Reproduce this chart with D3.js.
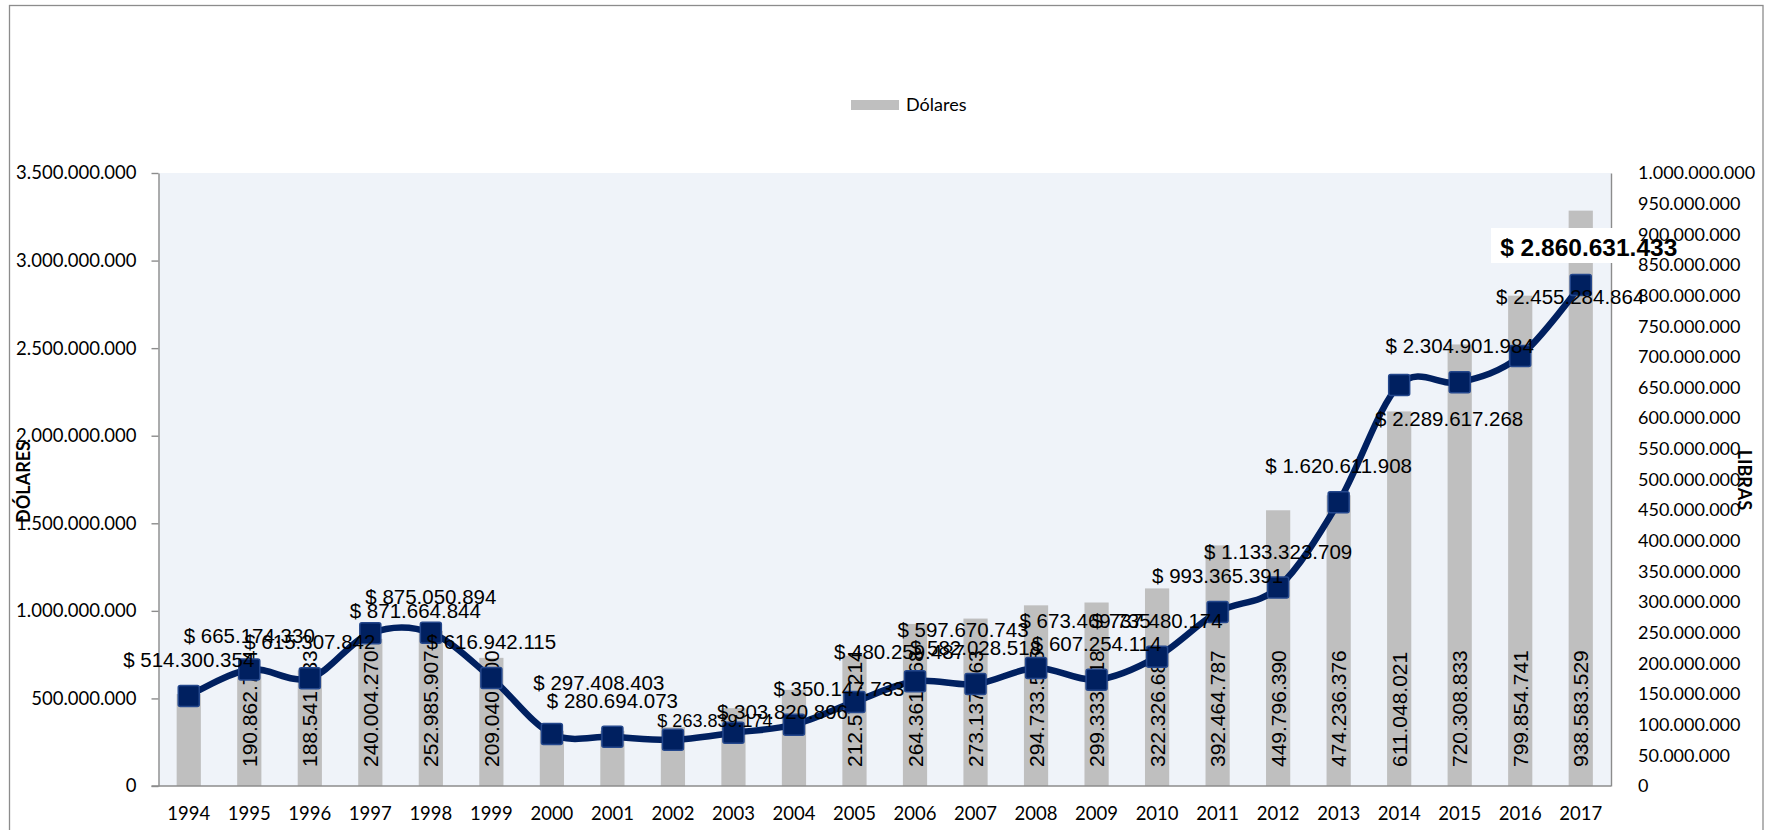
<!DOCTYPE html>
<html lang="es">
<head>
<meta charset="utf-8">
<title>Dólares y libras 1994–2017</title>
<script src="https://cdn.jsdelivr.net/npm/d3@7/dist/d3.min.js"></script>
<style>
  html, body { margin: 0; padding: 0; background: #ffffff; }
  svg { display: block; }
</style>
</head>
<body>
<svg id="chart" width="1773" height="830"></svg>
<script>
// Years on the category axis
const years = ["1994","1995","1996","1997","1998","1999","2000","2001","2002","2003","2004","2005",
               "2006","2007","2008","2009","2010","2011","2012","2013","2014","2015","2016","2017"];

// Line series: value in dollars (left axis)
const dolares = [514300354, 665174330, 615307842, 871664844, 875050894, 616942115, 297408403,
                 280694073, 263839174, 303820896, 350147733, 480259487, 597670743, 582028518,
                 673469735, 607254114, 737480174, 993365391, 1133323709, 1620611908, 2289617268,
                 2304901984, 2455284864, 2860631433];

// Bar series: volume in pounds (right axis)
const libras = [150000000, 190862764, 188541533, 240004270, 252985907, 209040500, 90000000,
                90000000, 96000000, 127000000, 157000000, 212575214, 264361768, 273137763,
                294733585, 299333918, 322326680, 392464787, 449796390, 474236376, 611048021,
                720308833, 799854741, 938583529];

// Which bars carry a value label
const librasLabelled = [false, true, true, true, true, true, false, false, false, false, false, true,
                        true, true, true, true, true, true, true, true, true, true, true, true];

// Axis ticks
const leftTicks = [0, 500000000, 1000000000, 1500000000, 2000000000, 2500000000, 3000000000, 3500000000];
const rightTicks = d3.range(0, 1000000001, 50000000);

// Legend entries
const legendItems = ["Dólares"];

// ---- layout ----
const W = 1773, H = 830;
const plot = { left: 158.5, right: 1611, top: 173, bottom: 786 };

// Hand-placed nudges for the dollar labels (px from the default spot above each marker)
const labelNudge = [[0,0],[0,3],[0,0],[45,14],[0,0],[0,0],[47,-15],[0,0],[42,16],[49,15],[45,0],
                    [45,-14],[48,-15],[0,0],[49,-11],[0,0],[0,0],[0,0],[0,0],[0,0],[50,70],[0,0],
                    [50,-23],[8,0]];
const smallLabels = new Set(["2002"]);

const locale = d3.formatLocale({ decimal: ",", thousands: ".", grouping: [3], currency: ["$ ", ""] });
const fmt = locale.format(",d");

const svg = d3.select("#chart");

// outer chart frame
svg.append("rect")
  .attr("x", 9.5).attr("y", 5.5).attr("width", 1753.5).attr("height", 900)
  .attr("fill", "#ffffff").attr("stroke", "#8c8c8c").attr("stroke-width", 1.3);

// plot area
svg.append("rect")
  .attr("x", plot.left).attr("y", plot.top)
  .attr("width", plot.right - plot.left).attr("height", plot.bottom - plot.top)
  .attr("fill", "#eff3f9");

const x = d3.scaleBand().domain(years).range([plot.left, plot.right])
  .paddingInner(0.6).paddingOuter(0.3);
const cx = d => x(d) + x.bandwidth() / 2;
const yL = d3.scaleLinear().domain([0, 3500000000]).range([plot.bottom, plot.top]);
const yR = d3.scaleLinear().domain([0, 1000000000]).range([plot.bottom, plot.top]);

const tickFont = "Lato, 'Open Sans', sans-serif";
const valueFont = "'Liberation Sans', Arial, sans-serif";

// bars (pounds)
svg.append("g").selectAll("rect").data(years).join("rect")
  .attr("x", d => x(d))
  .attr("width", x.bandwidth())
  .attr("y", (d, i) => yR(libras[i]))
  .attr("height", (d, i) => yR(0) - yR(libras[i]))
  .attr("fill", "#bfbfbf");

// axes
function styleAxis(size) {
  return g => {
    g.select(".domain").attr("stroke", "#8c8c8c").attr("stroke-width", 1.4);
    g.selectAll(".tick line").attr("stroke", "#8c8c8c").attr("stroke-width", 1.4);
    g.selectAll(".tick text").attr("fill", "#000").style("font-family", tickFont).style("font-size", size);
  };
}

svg.append("g").attr("transform", `translate(${plot.left},0)`)
  .call(d3.axisLeft(yL).tickValues(leftTicks).tickFormat(fmt).tickSize(7).tickSizeOuter(0).tickPadding(15))
  .call(styleAxis("18.5px"));

svg.append("g").attr("transform", `translate(${plot.right},0)`)
  .call(d3.axisRight(yR).tickValues(rightTicks).tickFormat(fmt).tickSize(0).tickSizeOuter(0).tickPadding(27))
  .call(styleAxis("18px"));

const xAxis = svg.append("g").attr("transform", `translate(0,${plot.bottom})`)
  .call(d3.axisBottom(x).tickSize(0).tickSizeOuter(0).tickPadding(21))
  .call(styleAxis("18.5px"));
xAxis.select(".domain").attr("d", `M${plot.left - 7},0H${plot.right}`);

// bar value labels, vertical, from the base upward
svg.append("g").selectAll("text").data(years.filter((d, i) => librasLabelled[i])).join("text")
  .attr("transform", d => `translate(${cx(d)},767) rotate(-90)`)
  .attr("dy", "0.36em")
  .attr("text-anchor", "start")
  .style("font-family", valueFont).style("font-size", "21px").attr("fill", "#000")
  .text(d => fmt(libras[years.indexOf(d)]));

// smoothed dollar line
const line = d3.line()
  .x((d, i) => cx(years[i]))
  .y(d => yL(d))
  .curve(d3.curveCardinal.tension(0));

svg.append("path").datum(dolares)
  .attr("d", line)
  .attr("fill", "none")
  .attr("stroke", "#002060")
  .attr("stroke-width", 6.5)
  .attr("stroke-linejoin", "round");

// square markers
const ms = 21;
svg.append("g").selectAll("rect").data(dolares).join("rect")
  .attr("x", (d, i) => cx(years[i]) - ms / 2)
  .attr("y", d => yL(d) - ms / 2)
  .attr("width", ms).attr("height", ms)
  .attr("rx", 2)
  .attr("fill", "#002060")
  .attr("stroke", "#24478c")
  .attr("stroke-width", 1.5);

// dollar value labels
const last = dolares.length - 1;
const lblG = svg.append("g");
dolares.forEach((v, i) => {
  const px = cx(years[i]) + labelNudge[i][0];
  const py = yL(v) - 29 + labelNudge[i][1];
  if (i === last) {
    lblG.append("rect")
      .attr("x", 1491).attr("y", 228).attr("width", 126).attr("height", 35)
      .attr("fill", "#ffffff");
    lblG.append("text")
      .attr("x", px).attr("y", py)
      .attr("text-anchor", "middle")
      .style("font-family", valueFont).style("font-size", "24.5px").style("font-weight", "bold")
      .attr("fill", "#000")
      .text("$ " + fmt(v));
  } else {
    lblG.append("text")
      .attr("x", px).attr("y", py)
      .attr("text-anchor", "middle")
      .style("font-family", valueFont)
      .style("font-size", smallLabels.has(years[i]) ? "18px" : "20.5px")
      .attr("fill", "#000")
      .text("$ " + fmt(v));
  }
});

// legend
const legend = svg.append("g").selectAll("g").data(legendItems).join("g");
legend.append("rect").attr("x", 851).attr("y", 100).attr("width", 48).attr("height", 10).attr("fill", "#bfbfbf");
legend.append("text").attr("x", 906).attr("y", 105).attr("dy", "0.35em")
  .style("font-family", tickFont).style("font-size", "18px").attr("fill", "#000")
  .text(d => d);

// axis titles
svg.append("text")
  .attr("transform", "translate(24,482) rotate(-90)")
  .attr("text-anchor", "middle").attr("dy", "0.35em")
  .style("font-family", tickFont).style("font-size", "18px").style("font-weight", "bold")
  .text("DÓLARES");
svg.append("text")
  .attr("transform", "translate(1744,480) rotate(90)")
  .attr("text-anchor", "middle").attr("dy", "0.35em")
  .style("font-family", tickFont).style("font-size", "18px").style("font-weight", "bold")
  .text("LIBRAS");
</script>
</body>
</html>
